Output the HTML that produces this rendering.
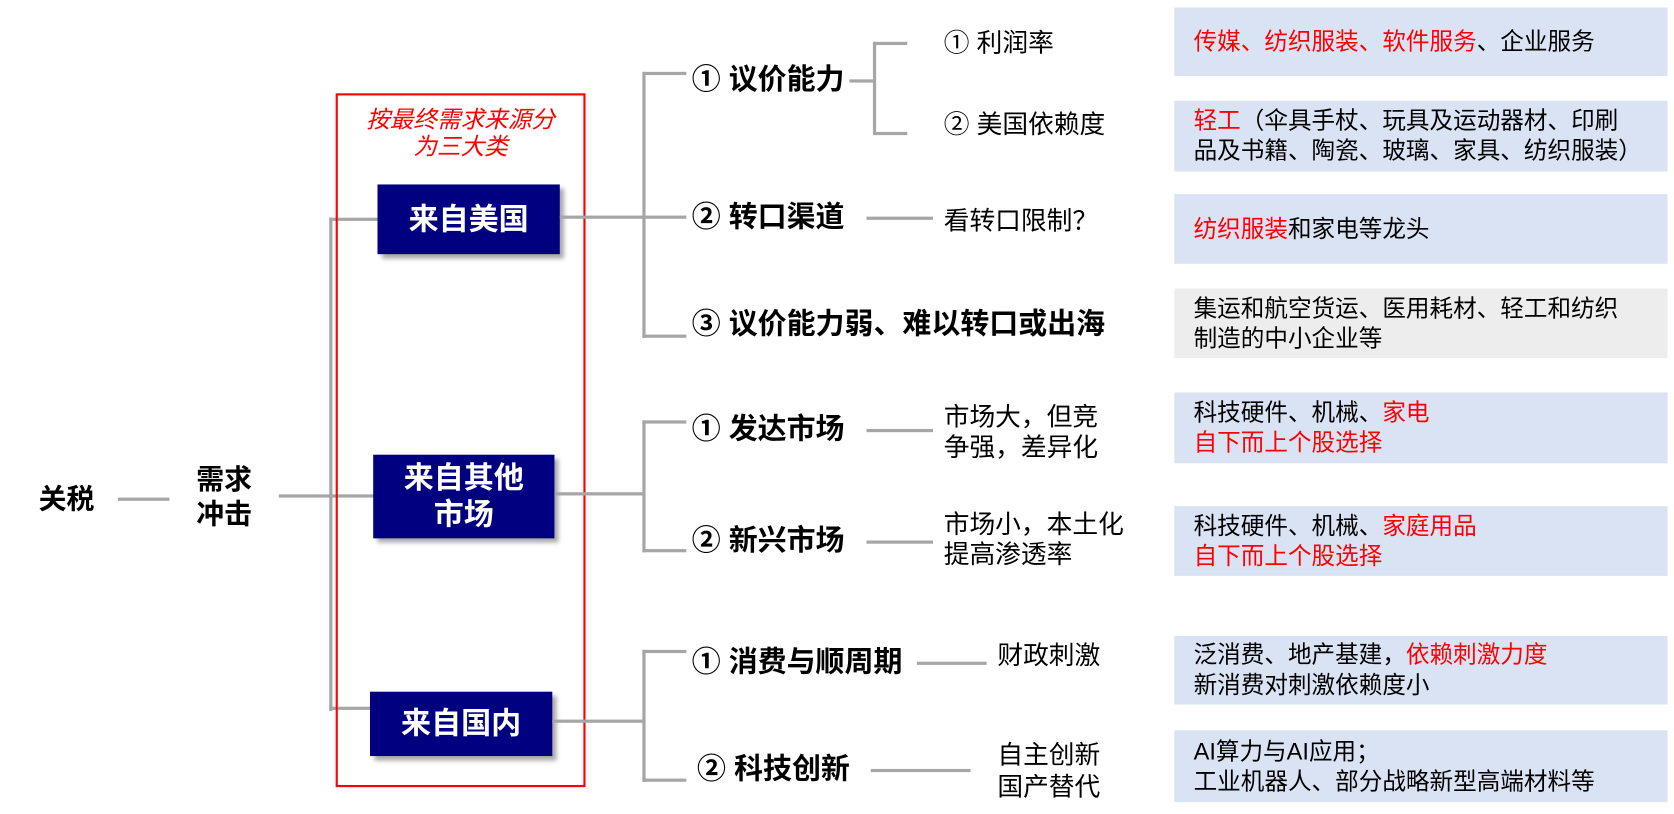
<!DOCTYPE html>
<html><head><meta charset="utf-8"><style>
html,body{margin:0;padding:0;background:#fff;width:1674px;height:814px;overflow:hidden}
#w{position:absolute;left:0;top:0;width:1561px;height:759px;transform:scale(1.0724);transform-origin:0 0;font-family:"Liberation Sans","Noto Sans CJK SC",sans-serif;color:#000}
.t{position:absolute;white-space:nowrap;line-height:1}
.b{font-weight:bold;font-size:27px}
.n{font-size:24px}
.l{position:absolute;background:#a6a6a6}
.nb{position:absolute;background:#000080;color:#fff;font-weight:bold;font-size:28px;display:flex;align-items:center;justify-content:center;text-align:center;line-height:34px;box-shadow:4px 4px 4px rgba(0,0,0,.35)}
.rb{position:absolute;left:1095px;width:460px;background:#dae3f3;font-size:22px;line-height:28px;padding-left:18px;box-sizing:border-box;display:flex;flex-direction:column;justify-content:center;white-space:nowrap}
.r{color:#f00}
</style></head><body><div id="w">
<div class="t" style="left:36px;top:452px;font-size:26px;font-weight:bold">关税</div>
<div class="l" style="left:110px;top:464px;width:48px;height:3px"></div>
<div class="t" style="left:183px;top:431px;line-height:32px;font-size:26px;font-weight:bold">需求<br>冲击</div>
<div class="l" style="left:260px;top:461px;width:90px;height:3px"></div>
<div class="l" style="left:307px;top:203px;width:3px;height:460px"></div>
<div class="l" style="left:307px;top:203px;width:46px;height:3px"></div>
<div class="l" style="left:307px;top:659px;width:40px;height:3px"></div>
<div style="position:absolute;left:313px;top:87px;width:229px;height:643px;border:2px solid #f00"></div>
<div class="t" style="left:315px;top:99px;width:229px;text-align:center;color:#f00;font-style:italic;font-size:22px;line-height:25px">按最终需求来源分<br>为三大类</div>
<div class="nb" style="left:352px;top:172px;width:170px;height:65px">来自美国</div>
<div class="nb" style="left:348px;top:424px;width:169px;height:78px">来自其他<br>市场</div>
<div class="nb" style="left:345px;top:645px;width:170px;height:60px">来自国内</div>
<!-- group 1 -->
<div class="l" style="left:522px;top:201px;width:118px;height:3px"></div>
<div class="l" style="left:599px;top:67px;width:3px;height:248px"></div>
<div class="l" style="left:599px;top:67px;width:41px;height:3px"></div>
<div class="l" style="left:599px;top:312px;width:41px;height:3px"></div>
<div class="t b" style="left:645px;top:61px">① 议价能力</div>
<div class="t b" style="left:645px;top:189px">② 转口渠道</div>
<div class="t b" style="left:645px;top:289px">③ 议价能力弱、难以转口或出海</div>
<div class="l" style="left:792px;top:74px;width:24px;height:3px"></div>
<div class="l" style="left:814px;top:39px;width:3px;height:86px"></div>
<div class="l" style="left:814px;top:39px;width:32px;height:3px"></div>
<div class="l" style="left:814px;top:123px;width:32px;height:3px"></div>
<div class="t n" style="left:880px;top:29px">① 利润率</div>
<div class="t n" style="left:880px;top:105px">② 美国依赖度</div>
<div class="l" style="left:808px;top:202px;width:62px;height:3px"></div>
<div class="t n" style="left:880px;top:195px">看转口限制？</div>
<!-- group 2 -->
<div class="l" style="left:517px;top:459px;width:84px;height:3px"></div>
<div class="l" style="left:599px;top:392px;width:3px;height:123px"></div>
<div class="l" style="left:599px;top:392px;width:41px;height:3px"></div>
<div class="l" style="left:599px;top:512px;width:41px;height:3px"></div>
<div class="t b" style="left:645px;top:387px">① 发达市场</div>
<div class="t b" style="left:645px;top:491px">② 新兴市场</div>
<div class="l" style="left:808px;top:400px;width:62px;height:3px"></div>
<div class="l" style="left:808px;top:504px;width:62px;height:3px"></div>
<div class="t n" style="left:880px;top:376px;line-height:28px">市场大，但竞<br>争强，差异化</div>
<div class="t n" style="left:880px;top:476px;line-height:28px">市场小，本土化<br>提高渗透率</div>
<!-- group 3 -->
<div class="l" style="left:515px;top:671px;width:86px;height:3px"></div>
<div class="l" style="left:599px;top:606px;width:3px;height:123px"></div>
<div class="l" style="left:599px;top:606px;width:41px;height:3px"></div>
<div class="l" style="left:599px;top:726px;width:41px;height:3px"></div>
<div class="t b" style="left:645px;top:604px">① 消费与顺周期</div>
<div class="t b" style="left:650px;top:704px">② 科技创新</div>
<div class="l" style="left:855px;top:617px;width:65px;height:3px"></div>
<div class="l" style="left:812px;top:717px;width:93px;height:3px"></div>
<div class="t n" style="left:930px;top:600px">财政刺激</div>
<div class="t n" style="left:930px;top:690px;line-height:30px">自主创新<br>国产替代</div>
<!-- right boxes -->
<div class="rb" style="top:7px;height:64px"><div><span class="r">传媒、纺织服装、软件服务</span>、企业服务</div></div>
<div class="rb" style="top:94px;height:66px"><div><span class="r">轻工</span>（伞具手杖、玩具及运动器材、印刷</div><div>品及书籍、陶瓷、玻璃、家具、纺织服装）</div></div>
<div class="rb" style="top:181px;height:65px"><div><span class="r">纺织服装</span>和家电等龙头</div></div>
<div class="rb" style="top:269px;height:65px;background:#ededed"><div>集运和航空货运、医用耗材、轻工和纺织</div><div>制造的中小企业等</div></div>
<div class="rb" style="top:366px;height:66px"><div>科技硬件、机械、<span class="r">家电</span></div><div class="r">自下而上个股选择</div></div>
<div class="rb" style="top:472px;height:65px"><div>科技硬件、机械、<span class="r">家庭用品</span></div><div class="r">自下而上个股选择</div></div>
<div class="rb" style="top:593px;height:64px"><div>泛消费、地产基建，<span class="r">依赖刺激力度</span></div><div>新消费对刺激依赖度小</div></div>
<div class="rb" style="top:681px;height:67px"><div>AI算力与AI应用；</div><div>工业机器人、部分战略新型高端材料等</div></div>
</div></body></html>
